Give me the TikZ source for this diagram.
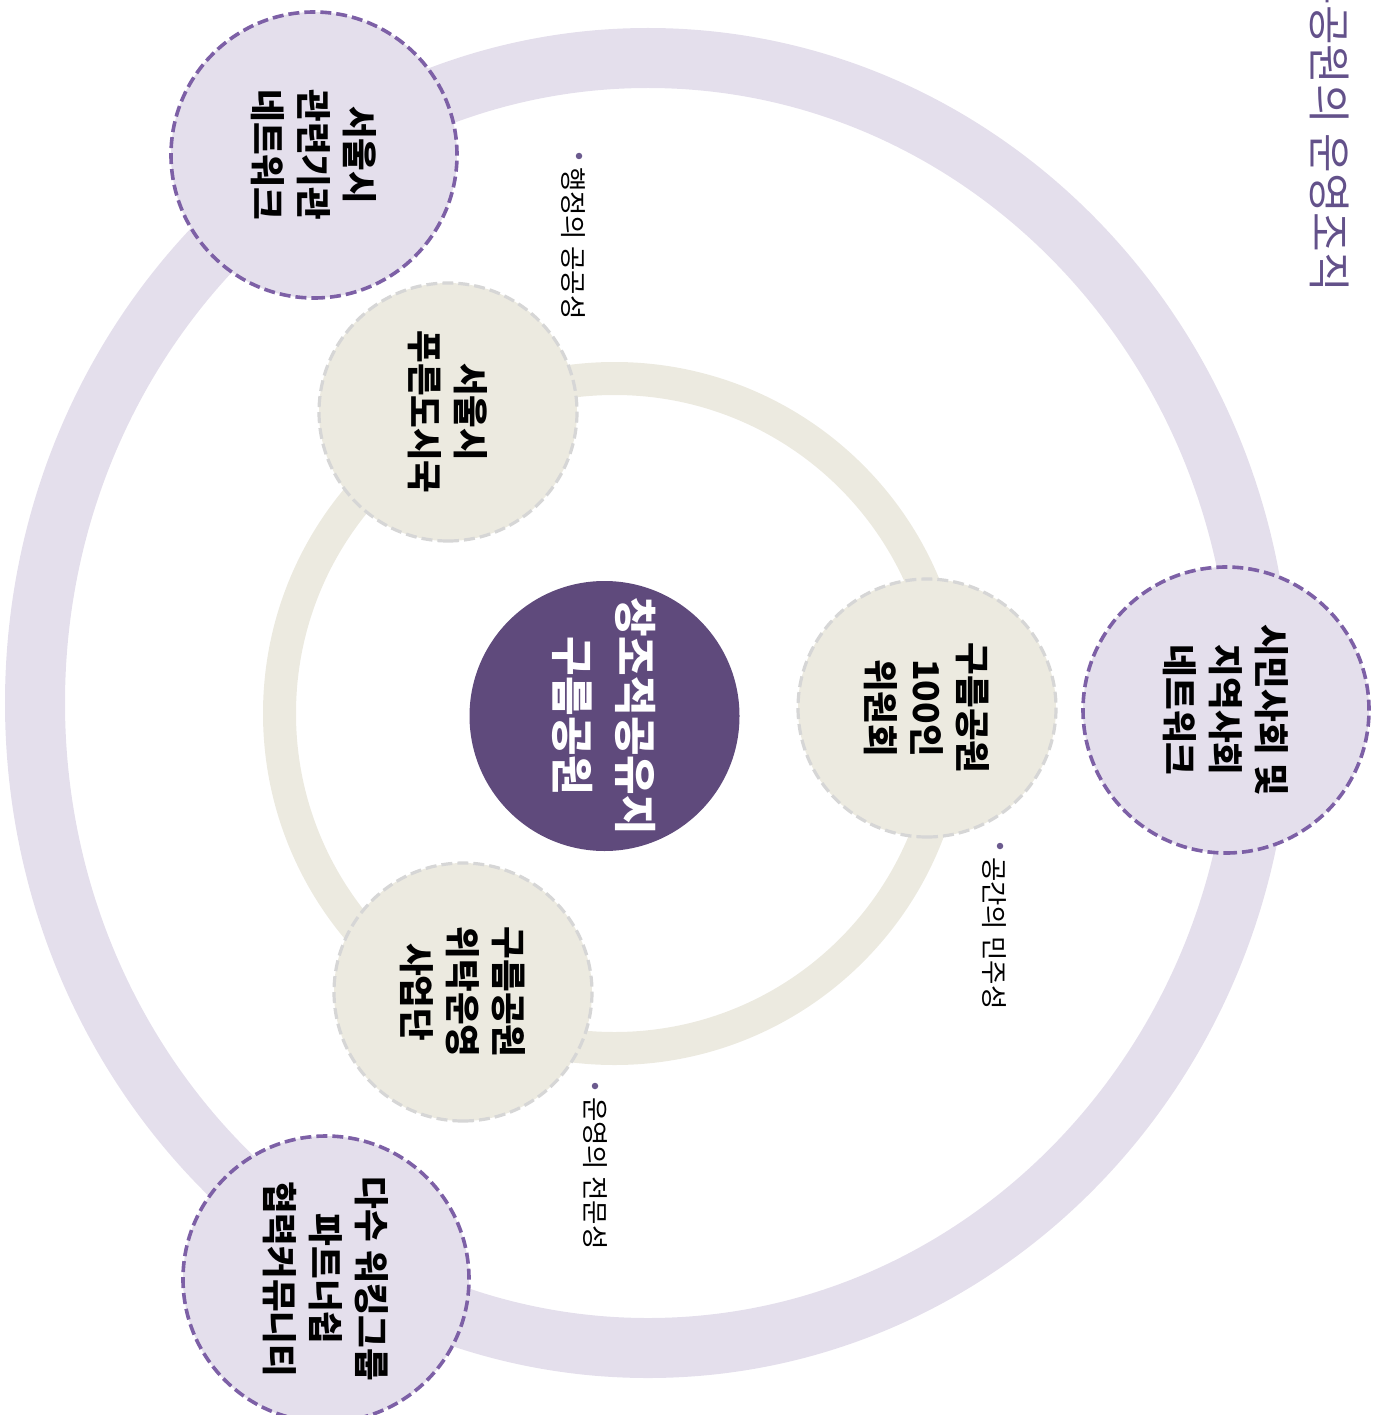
\documentclass[tikz,border=0pt]{standalone}
\usepackage{fontspec}
\newfontfamily\kr{Noto Sans CJK KR}
\definecolor{ringout}{HTML}{E4DFEC}
\definecolor{ringin}{HTML}{ECEAE0}
\definecolor{centerc}{HTML}{5F4A7C}
\definecolor{lavfill}{HTML}{E4DFEC}
\definecolor{lavline}{HTML}{7D60A6}
\definecolor{begfill}{HTML}{ECEAE0}
\definecolor{begline}{HTML}{D6D6D6}
\definecolor{titlec}{HTML}{63518A}
\definecolor{dotcol}{HTML}{6B5A8E}
\tikzset{
  lavc/.style={circle, minimum size=286pt, inner sep=0pt, fill=lavfill, draw=lavline,
    line width=3.6pt, dash pattern=on 11pt off 5pt, align=center,
    font=\kr\bfseries\fontsize{35.5}{46}\selectfont, rotate=-90},
  begc/.style={circle, minimum size=258pt, inner sep=0pt, fill=begfill, draw=begline,
    line width=3.2pt, dash pattern=on 11pt off 5pt, align=center,
    font=\kr\bfseries\fontsize{35.5}{46}\selectfont, rotate=-90},
  cenc/.style={circle, minimum size=270pt, inner sep=0pt, fill=centerc, text=white,
    align=center, font=\kr\bfseries\fontsize{43}{63}\selectfont, rotate=-90},
  lbl/.style={inner sep=0pt, anchor=west, rotate=-90, font=\kr\fontsize{26.5}{30}\selectfont},
  dotc/.style={circle, fill=dotcol, minimum size=6.5pt, inner sep=0pt},
}
\begin{document}
\begin{tikzpicture}[x=1pt, y=-1pt]
\useasboundingbox (0,0) rectangle (1373,1415);
% rings
\draw[ringout, line width=60pt] (648,703) ellipse [x radius=613, y radius=645];
\draw[ringin, line width=33pt] (614.5,713.5) circle [radius=335];
% centre
\node[cenc] (c) at (604.5,716) {창조적공유지\\구름공원};
% beige circles
\node[begc] (b1) at (448,412) {서울시\\푸른도시국};
\node[begc] (b2) at (927,708) {구름공원\\100인\\위원회};
\node[begc] (b3) at (463,992) {구름공원\\위탁운영\\사업단};
% lavender circles
\node[lavc] (v1) at (314,155) {서울시\\관련기관\\네트워크};
\node[lavc] (v2) at (1226,710) {시민사회 및\\지역사회\\네트워크};
\node[lavc] (v3) at (326,1279) {다수 워킹그룹\\파트너쉽\\협력커뮤니티};
% labels
\node[dotc] (d1) at (579,156) {};
\node[lbl] (l1) at (573,167) {행정의 공공성};
\node[dotc] (d2) at (1000,846) {};
\node[lbl] (l2) at (994,857) {공간의 민주성};
\node[dotc] (d3) at (595,1086) {};
\node[lbl] (l3) at (595,1097) {운영의 전문성};
% title
\node[inner sep=0pt, anchor=east, rotate=-90, text=titlec,
  font=\kr\fontsize{43}{50}\selectfont] (t) at (1330,292) {구름공원의 운영조직};
\end{tikzpicture}
\end{document}
